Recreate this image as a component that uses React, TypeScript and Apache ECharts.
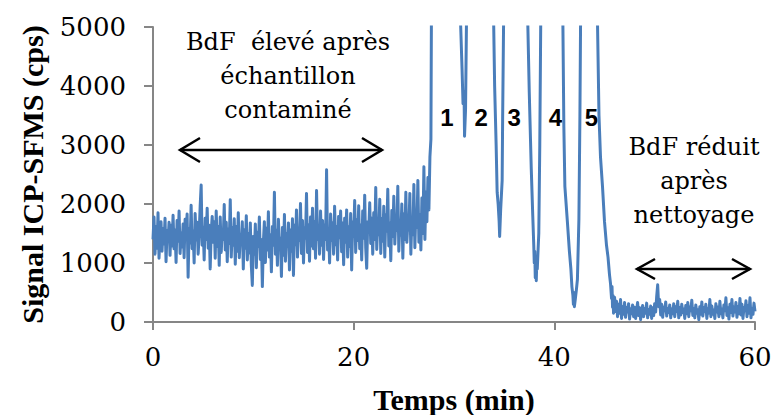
import React, { useEffect, useRef } from "react";
import * as echarts from "echarts";

// Sampling of the recorded signal (min)
const SAMPLE_STEP = 0.1;
const NOISE_START = 0;
const TAIL_START = 46;

// Background before cleaning (t = 0.0 … 27.5 min, every 0.1 min), cps
const noiseSignal = [
  1400, 1780, 1150, 1620, 1250, 1850, 1080, 1500, 1700, 1200, 1580, 1320, 1760, 1020, 1550, 1380, 1690, 1130, 1640, 1290,
  1810, 1240, 1560, 1010, 1720, 1370, 1880, 1160, 1510, 1270, 1660, 1090, 1740, 1430, 1830, 760, 1590, 1340, 1980, 1240,
  1540, 1000, 1840, 1390, 1690, 1150, 1480, 1960, 2320, 1300, 1610, 1050, 1760, 1400, 1930, 1250, 1640, 900, 1520, 1790,
  1350, 1700, 1080, 1880, 1280, 1620, 960, 1780, 1180, 1550, 1400, 1990, 1220, 1690, 1020, 1580, 1330, 2070, 1100, 1600,
  1300, 1750, 980, 1620, 1200, 1850, 1090, 1480, 1310, 1700, 900, 1560, 1250, 1800, 1050, 1500, 1170, 1680, 960, 620,
  1450, 1150, 1660, 920, 1520, 1280, 1780, 1060, 1400, 600, 1350, 1700, 1010, 1590, 1220, 1870, 1100, 1480, 850, 1620,
  1300, 2200, 1150, 1560, 960, 1740, 1250, 1420, 770, 1600, 1130, 1820, 1030, 1500, 1290, 1680, 880, 1560, 1200, 1750,
  790, 1640, 1310, 1900, 1100, 1560, 1380, 2010, 1160, 1720, 1000, 1600, 1420, 2180, 1180, 1650, 1030, 1780, 1290, 1930,
  1240, 1700, 1080, 2230, 1400, 1580, 1150, 1880, 1300, 1720, 1060, 1650, 1400, 2580, 1220, 1590, 1000, 1830, 1380, 1680,
  1150, 1960, 1310, 1620, 1050, 1790, 1430, 1880, 1190, 1680, 970, 1760, 1350, 1900, 1100, 1610, 1280, 1840, 880, 1700,
  1450, 2060, 1180, 1730, 1380, 1970, 1240, 1640, 1050, 1880, 1420, 2150, 1260, 910, 1700, 1520, 2020, 1330, 1760, 1150,
  1850, 1400, 2280, 1230, 1690, 1480, 2080, 1160, 1750, 1370, 1960, 1100, 1820, 1540, 2250, 1290, 1680, 1040, 1890, 1450,
  2130, 1320, 1760, 1550, 2300, 1200, 1700, 1470, 2000, 1080, 1830, 1400, 2200, 1350, 1690, 1560, 2180, 1150, 1780, 1480,
  2330, 1260, 1900, 1600, 2400, 1350, 1820, 1220, 2100, 1500, 2630, 1400, 2200, 1700, 2450, 1900,
];

// Elution peaks 1–5 (irregular time points, min)
const peakTimes = [
  27.6, 27.7, 27.75, 27.9, 30.5, 30.65, 30.8, 30.9, 31.0, 31.05, 31.15, 31.25, 31.4,
  33.8, 33.95, 34.05, 34.2, 34.3, 34.4, 34.5, 34.55, 34.65, 34.8, 34.85, 34.95, 35.1,
  37.2, 37.35, 37.5, 37.7, 37.85, 37.95, 38.0, 38.05, 38.1, 38.15, 38.2, 38.25, 38.3, 38.4, 38.45, 38.55, 38.65, 38.8,
  40.7, 40.85, 40.95, 41.05, 41.3, 41.5, 41.65, 41.75, 41.85, 41.9, 41.95, 42.0, 42.1, 42.2, 42.3, 42.4, 42.45, 42.55, 42.62, 42.8,
  44.1, 44.3, 44.45, 44.6, 44.8, 45.0, 45.2, 45.35, 45.5, 45.6, 45.7, 45.75, 45.8, 45.85, 45.9,
];
const peakSignal = [
  2800, 3100, 5200, 30000, 30000, 5100, 4300, 3700, 3900, 3150, 3600, 5200, 30000,
  30000, 5100, 4000, 3000, 2200, 2000, 1700, 1450, 1900, 2400, 3500, 5200, 30000,
  30000, 5100, 3900, 2600, 1800, 1300, 1000, 1200, 750, 1100, 700, 1000, 900, 1300, 1500, 3000, 5200, 30000,
  30000, 5100, 3300, 2300, 1700, 1200, 900, 600, 450, 300, 500, 260, 400, 550, 720, 1400, 1750, 3500, 5200, 30000,
  30000, 5100, 3500, 2800, 2300, 1700, 1300, 1100, 800, 650, 400, 600, 250, 450, 150,
];

// Background after cleaning (t = 46.0 … 60.0 min, every 0.1 min), cps
const tailSignal = [
  420, 180, 350, 90, 300, 150, 380, 60, 260, 130, 330, 80, 240, 170, 310, 50, 220, 140, 290, 90,
  250, 60, 200, 330, 110, 240, 40, 190, 280, 90, 230, 150, 320, 70, 210, 130, 270, 60, 240, 110,
  310, 170, 430, 630, 260, 380, 120, 300, 80, 250, 190, 340, 100, 230, 160, 290, 70, 220, 140, 310,
  90, 260, 180, 350, 70, 240, 120, 300, 160, 220, 60, 280, 140, 330, 90, 250, 190, 370, 110, 230,
  70, 290, 150, 210, 40, 260, 130, 340, 100, 240, 180, 300, 60, 220, 150, 380, 90, 270, 130, 200,
  60, 310, 170, 250, 90, 350, 140, 220, 70, 290, 190, 410, 110, 240, 50, 300, 160, 380, 100, 250,
  170, 330, 80, 260, 140, 400, 120, 300, 60, 240, 190, 360, 90, 280, 150, 410, 70, 230, 130, 320,
  180,
];

const peakLabels = ["1", "2", "3", "4", "5"];
const peakLabelTimes = [29.3, 32.7, 36.0, 40.1, 43.7];
const leftNote = ["BdF  élevé après", "échantillon", "contaminé"];
const rightNote = ["BdF réduit", "après", "nettoyage"];

const SERIF_BOLD = "Liberation Serif";
const SERIF_REG = "DejaVu Serif";
const AXIS_GRAY = "#868686";
const LINE_BLUE = "#4a7ebb";

export default function App() {
  const ref = useRef<HTMLDivElement>(null);

  useEffect(() => {
    if (!ref.current) return;
    const chart = echarts.init(ref.current, null, { renderer: "svg" });

    const data: [number, number][] = [];
    noiseSignal.forEach((v, i) => data.push([+(NOISE_START + i * SAMPLE_STEP).toFixed(2), v]));
    peakTimes.forEach((t, i) => data.push([t, peakSignal[i]]));
    tailSignal.forEach((v, i) => data.push([+(TAIL_START + i * SAMPLE_STEP).toFixed(2), v]));

    const gLeft = 153;
    const gTop = 27;
    const gRight = 16;
    const gBottom = 93;
    const plotW = 771 - gLeft - gRight;
    const xPx = (t: number) => gLeft + (t / 60) * plotW;

    const noteStyle = (s: string) => ({
      text: s,
      fontFamily: SERIF_REG,
      fontSize: 24,
      fill: "#000",
      align: "center",
      verticalAlign: "middle",
    });

    const textEls: any[] = [];
    leftNote.forEach((s, i) => {
      textEls.push({ type: "text", x: 288, y: 42 + i * 34, style: noteStyle(s) });
    });
    rightNote.forEach((s, i) => {
      textEls.push({ type: "text", x: 694, y: 147 + i * 34, style: noteStyle(s) });
    });
    peakLabels.forEach((s, i) => {
      textEls.push({
        type: "text",
        x: xPx(peakLabelTimes[i]),
        y: 117,
        style: {
          text: s,
          fontFamily: "Liberation Sans",
          fontWeight: "bold",
          fontSize: 24,
          fill: "#000",
          align: "center",
          verticalAlign: "middle",
        },
      });
    });

    const arrow = (x1: number, x2: number, y: number, len: number, half: number) => [
      { type: "line", shape: { x1, y1: y, x2, y2: y }, style: { stroke: "#000", lineWidth: 2.5 } },
      {
        type: "polyline",
        shape: { points: [[x1 + len, y - half], [x1, y], [x1 + len, y + half]] },
        style: { stroke: "#000", lineWidth: 2.5, fill: null },
      },
      {
        type: "polyline",
        shape: { points: [[x2 - len, y - half], [x2, y], [x2 - len, y + half]] },
        style: { stroke: "#000", lineWidth: 2.5, fill: null },
      },
    ];

    chart.setOption({
      animation: false,
      backgroundColor: "#fff",
      grid: {
        left: gLeft,
        top: gTop,
        right: gRight,
        bottom: gBottom,
        containLabel: false,
        outerBoundsMode: "none",
      },
      xAxis: {
        type: "value",
        min: 0,
        max: 60,
        interval: 20,
        name: "Temps (min)",
        nameLocation: "middle",
        nameGap: 62,
        nameTextStyle: { fontFamily: SERIF_BOLD, fontWeight: "bold", fontSize: 30, color: "#000" },
        axisLine: { show: true, onZero: false, lineStyle: { color: AXIS_GRAY, width: 2 } },
        axisTick: { show: true, inside: false, length: 8, lineStyle: { color: AXIS_GRAY, width: 2 } },
        axisLabel: {
          fontFamily: SERIF_REG,
          fontSize: 26,
          color: "#000",
          margin: 22,
          formatter: (v: number) => String(v),
        },
        splitLine: { show: false },
      },
      yAxis: {
        type: "value",
        min: 0,
        max: 5000,
        interval: 1000,
        name: "Signal ICP-SFMS (cps)",
        nameLocation: "middle",
        nameGap: 106,
        nameRotate: 90,
        nameTextStyle: { fontFamily: SERIF_BOLD, fontWeight: "bold", fontSize: 30, color: "#000" },
        axisLine: { show: true, lineStyle: { color: AXIS_GRAY, width: 2 } },
        axisTick: { show: true, inside: false, length: 9, lineStyle: { color: AXIS_GRAY, width: 2 } },
        axisLabel: {
          fontFamily: SERIF_REG,
          fontSize: 26,
          color: "#000",
          margin: 27,
          formatter: (v: number) => String(v),
        },
        splitLine: { show: false },
      },
      series: [
        {
          type: "line",
          data,
          showSymbol: false,
          symbol: "none",
          clip: true,
          lineStyle: { color: LINE_BLUE, width: 3, join: "round" },
          itemStyle: { color: LINE_BLUE },
        },
      ],
      graphic: [...textEls, ...arrow(180, 382, 150, 20, 12), ...arrow(637, 750, 269, 18, 10)],
    });

    return () => chart.dispose();
  }, []);

  return (
    <div
      ref={ref}
      style={{ position: "fixed", left: 0, top: 0, width: 771, height: 415, background: "#fff" }}
    />
  );
}
